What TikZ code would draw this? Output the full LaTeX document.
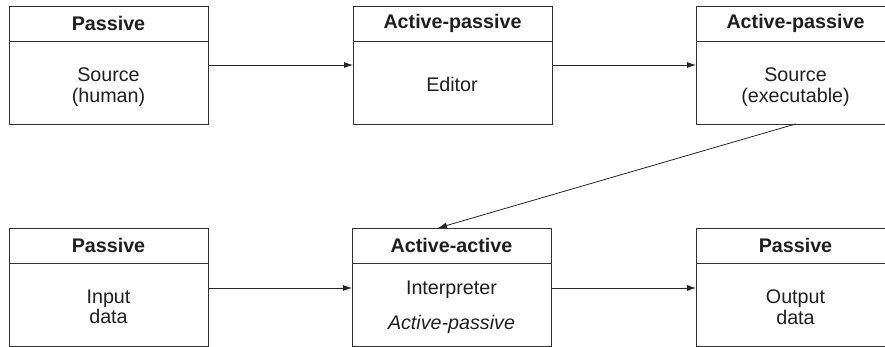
\documentclass[tikz,border=0pt]{standalone}
\usepackage{fontspec}
\setmainfont{Liberation Sans}
\usetikzlibrary{arrows.meta}
\begin{document}
\begin{tikzpicture}[x=1pt,y=-1pt,
  every node/.style={inner sep=0pt,outer sep=0pt},
  hdr/.style={draw=black!80,line width=0.9pt,minimum width=199pt,minimum height=35pt,anchor=north west,font=\fontsize{19.7}{20.5}\selectfont\bfseries,text=black!88},
  bodybox/.style={draw=black!80,line width=0.9pt,minimum width=199pt,minimum height=83pt,anchor=north west},
  txt/.style={font=\fontsize{19.7}{20.5}\selectfont,text=black!88,align=center},
  arr/.style={draw=black!85,line width=0.8pt,-{Latex[length=9pt,width=6pt]}}]
\useasboundingbox (0,0) rectangle (885,347);
% top row
\node[hdr] (h1) at (9,6) {Passive};
\node[bodybox] (b1) at (9,41) {};
\node[hdr] (h2) at (353,6) {Active-passive};
\node[bodybox] (b2) at (353,41) {};
\node[hdr] (h3) at (696,6) {Active-passive};
\node[bodybox] (b3) at (696,41) {};
% bottom row
\node[hdr] (h4) at (9,228) {Passive};
\node[bodybox] (b4) at (9,263) {};
\node[hdr] (h5) at (352,228) {Active-active};
\node[bodybox] (b5) at (352,263) {};
\node[hdr] (h6) at (696,228) {Passive};
\node[bodybox] (b6) at (696,263) {};
% texts
\node[txt] (t1) at (108.5,87) {Source\\(human)};
\node[txt] (t2) at (452,84) {Editor};
\node[txt] (t3) at (795.5,87) {Source\\(executable)};
\node[txt] (t4) at (108.5,307) {Input\\data};
\node[txt] (t5) at (451.5,290) {Interpreter};
\node[txt,font=\fontsize{19.7}{20.5}\selectfont\itshape] (t5b) at (451.5,324) {Active-passive};
\node[txt] (t6) at (795.5,307) {Output\\data};
% connectors
\coordinate (r1) at (0,65);
\coordinate (r2) at (0,288);
\draw[arr] (b1.east |- r1) -- (b2.west |- r1);
\draw[arr] (b2.east |- r1) -- (b3.west |- r1);
\draw[arr] (b4.east |- r2) -- (b5.west |- r2);
\draw[arr] (b5.east |- r2) -- (b6.west |- r2);
\coordinate (d1) at (438,0);
\draw[arr] (b3.south) -- (h5.north -| d1);
\end{tikzpicture}
\end{document}
